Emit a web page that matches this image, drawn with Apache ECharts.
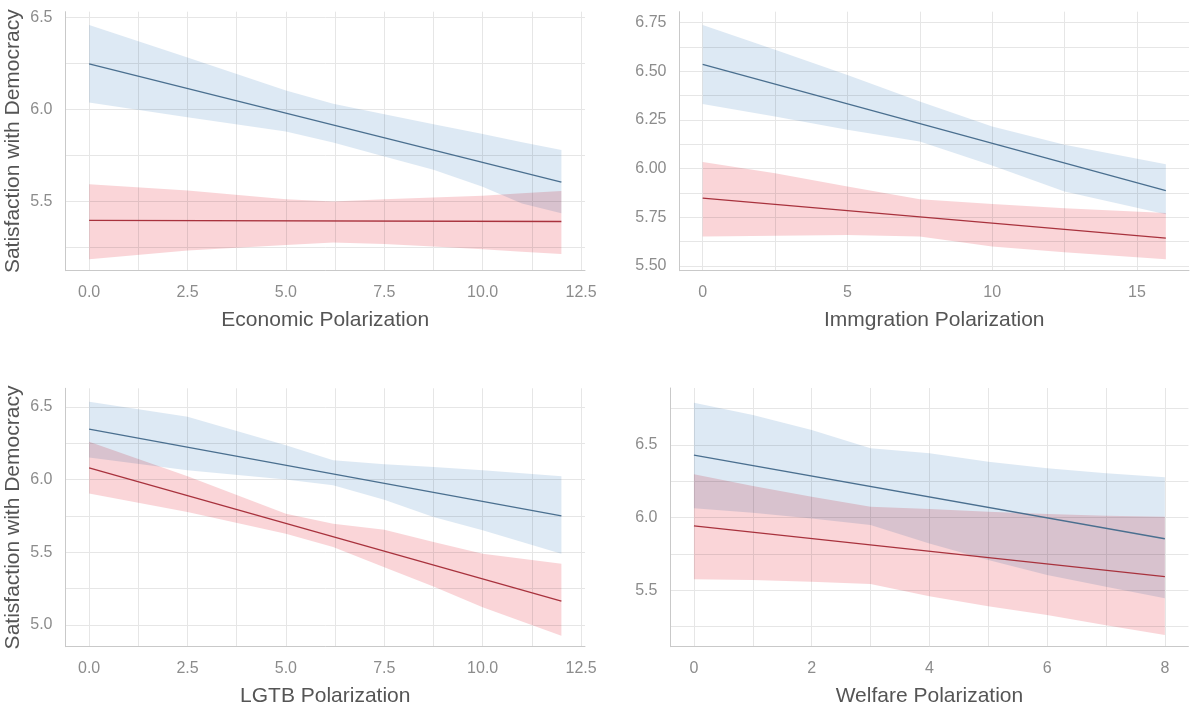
<!DOCTYPE html>
<html>
<head>
<meta charset="utf-8">
<script src="https://cdn.jsdelivr.net/npm/echarts@6/dist/echarts.min.js"></script>
<style>
  html, body { margin: 0; padding: 0; background: #fff; }
  #chart { width: 1192px; height: 709px; }
</style>
</head>
<body>
<div id="chart"></div>
<script>
// Predicted satisfaction with democracy (line) and 95% band, two groups per panel.

// Economic polarization
const econX        = [0, 2.5, 5, 6.2, 7.5, 8.75, 10, 11, 12];
const econBlueHi   = [6.458, 6.281, 6.102, 6.030, 5.974, 5.920, 5.867, 5.822, 5.780];
const econBlueLo   = [6.037, 5.958, 5.880, 5.820, 5.744, 5.672, 5.581, 5.490, 5.437];
const econRedHi    = [5.594, 5.560, 5.513, 5.500, 5.513, 5.522, 5.531, 5.545, 5.558];
const econRedLo    = [5.187, 5.234, 5.265, 5.278, 5.270, 5.256, 5.241, 5.228, 5.216];
const econLineX    = [0, 12];
const econBlueFit  = [6.247, 5.605];
const econRedFit   = [5.398, 5.392];

// Immigration polarization
const immX         = [0, 2.5, 5, 7.5, 10, 12.5, 16];
const immBlueHi    = [6.738, 6.610, 6.481, 6.344, 6.216, 6.122, 6.022];
const immBlueLo    = [6.332, 6.267, 6.199, 6.139, 6.015, 5.882, 5.765];
const immRedHi     = [6.033, 5.976, 5.908, 5.842, 5.818, 5.796, 5.771];
const immRedLo     = [5.651, 5.654, 5.659, 5.651, 5.599, 5.570, 5.534];
const immLineX     = [0, 16];
const immBlueFit   = [6.535, 5.887];
const immRedFit    = [5.848, 5.642];

// LGTB polarization
const lgtbX        = [0, 2.5, 5, 6.2, 7.5, 8.75, 10, 12];
const lgtbBlueHi   = [6.534, 6.431, 6.236, 6.132, 6.105, 6.085, 6.064, 6.022];
const lgtbBlueLo   = [6.151, 6.064, 6.000, 5.960, 5.861, 5.742, 5.650, 5.490];
const lgtbRedHi    = [6.259, 6.022, 5.765, 5.696, 5.655, 5.570, 5.489, 5.420];
const lgtbRedLo    = [5.903, 5.776, 5.627, 5.535, 5.397, 5.264, 5.122, 4.926];
const lgtbLineX    = [0, 12];
const lgtbBlueFit  = [6.346, 5.749];
const lgtbRedFit   = [6.080, 5.163];

// Welfare polarization
const welfX        = [0, 1, 2, 3, 4, 5, 6, 7, 8];
const welfBlueHi   = [6.790, 6.706, 6.603, 6.477, 6.443, 6.385, 6.340, 6.305, 6.278];
const welfBlueLo   = [6.064, 6.034, 5.995, 5.950, 5.823, 5.709, 5.606, 5.525, 5.445];
const welfRedHi    = [6.298, 6.218, 6.144, 6.076, 6.060, 6.041, 6.025, 6.014, 6.007];
const welfRedLo    = [5.576, 5.571, 5.560, 5.544, 5.460, 5.390, 5.330, 5.260, 5.193];
const welfLineX    = [0, 8];
const welfBlueFit  = [6.430, 5.855];
const welfRedFit   = [5.943, 5.594];

const xTitles = ['Economic Polarization', 'Immgration Polarization', 'LGTB Polarization', 'Welfare Polarization'];
const yTitle = 'Satisfaction with Democracy';

const FONT = 'Liberation Sans, Arial, sans-serif';
const GRID_LINE = '#e6e6e6';
const AXIS_LINE = '#c9c9c9';
const BLUE_LINE = '#4a6f8f';
const RED_LINE = '#a8323d';
const BLUE_FILL = '#dde9f4';
const RED_FILL = '#fad5d8';

// Fine tick step so gridlines land on the minor breaks while min stays a step multiple.
function gridColors(min, step, every) {
  const n = Math.round(every / step);
  const off = (((-Math.round(min / step)) % n) + n) % n;
  const arr = new Array(n).fill('rgba(0,0,0,0)');
  arr[off] = GRID_LINE;
  return arr;
}
function labelFmt(every, dec) {
  return function (v) {
    const k = v / every;
    return Math.abs(k - Math.round(k)) < 1e-6 ? v.toFixed(dec) : '';
  };
}

function valueAxis(idx, cfg, dim, name) {
  const ax = {
    type: 'value', gridIndex: idx,
    min: cfg.min, max: cfg.max, interval: cfg.step,
    axisLine: { show: true, onZero: false, lineStyle: { color: AXIS_LINE, width: 1 } },
    axisTick: { show: false },
    splitLine: { show: true, lineStyle: { color: gridColors(cfg.min, cfg.step, cfg.grid), width: 1 } },
    axisLabel: {
      formatter: labelFmt(cfg.label, cfg.dec),
      color: '#8c8c8c', fontFamily: FONT, fontSize: 16,
      margin: dim === 'x' ? 14 : 13,
      showMinLabel: true, showMaxLabel: true
    }
  };
  if (name) {
    ax.name = name;
    ax.nameLocation = 'middle';
    ax.nameGap = dim === 'x' ? 39 : 42;
    ax.nameTextStyle = { color: '#555555', fontFamily: FONT, fontSize: 21 };
  }
  return ax;
}

const panels = [
  { grid: { left: 65.5, top: 11.7, width: 519.5, height: 259 },
    x: { min: -0.6, max: 12.6, step: 0.05, grid: 1.25, label: 2.5, dec: 1 },
    y: { min: 5.125, max: 6.53, step: 0.125, grid: 0.25, label: 0.5, dec: 1 },
    bx: econX, bhi: econBlueHi, blo: econBlueLo, rhi: econRedHi, rlo: econRedLo,
    lx: econLineX, bfit: econBlueFit, rfit: econRedFit, yName: yTitle },
  { grid: { left: 679.5, top: 11.7, width: 511.5, height: 259 },
    x: { min: -0.8, max: 16.8, step: 0.1, grid: 2.5, label: 5, dec: 0 },
    y: { min: 5.475, max: 6.806, step: 0.025, grid: 0.125, label: 0.25, dec: 2 },
    bx: immX, bhi: immBlueHi, blo: immBlueLo, rhi: immRedHi, rlo: immRedLo,
    lx: immLineX, bfit: immBlueFit, rfit: immRedFit, yName: null },
  { grid: { left: 65.5, top: 388.3, width: 519.5, height: 258.4 },
    x: { min: -0.6, max: 12.6, step: 0.05, grid: 1.25, label: 2.5, dec: 1 },
    y: { min: 4.85, max: 6.627, step: 0.05, grid: 0.25, label: 0.5, dec: 1 },
    bx: lgtbX, bhi: lgtbBlueHi, blo: lgtbBlueLo, rhi: lgtbRedHi, rlo: lgtbRedLo,
    lx: lgtbLineX, bfit: lgtbBlueFit, rfit: lgtbRedFit, yName: yTitle },
  { grid: { left: 670.4, top: 388, width: 518, height: 258.7 },
    x: { min: -0.4, max: 8.4, step: 0.2, grid: 1, label: 2, dec: 0 },
    y: { min: 5.1125, max: 6.892, step: 0.0125, grid: 0.25, label: 0.5, dec: 1 },
    bx: welfX, bhi: welfBlueHi, blo: welfBlueLo, rhi: welfRedHi, rlo: welfRedLo,
    lx: welfLineX, bfit: welfBlueFit, rfit: welfRedFit, yName: null }
];

function bandSeries(idx, xs, lo, hi, fill) {
  return {
    type: 'custom', xAxisIndex: idx, yAxisIndex: idx,
    data: xs.map((x, i) => [x, lo[i], hi[i]]),
    encode: { x: 0, y: [1, 2] },
    silent: true, z: 1, blendMode: 'multiply',
    renderItem: function (params, api) {
      if (params.dataIndex !== 0) return null;
      const pts = [];
      for (let i = 0; i < xs.length; i++) pts.push(api.coord([xs[i], hi[i]]));
      for (let i = xs.length - 1; i >= 0; i--) pts.push(api.coord([xs[i], lo[i]]));
      return { type: 'polygon', shape: { points: pts }, style: { fill: fill, stroke: null, blend: 'multiply' } };
    }
  };
}
function fitSeries(idx, xs, ys, color) {
  return {
    type: 'line', xAxisIndex: idx, yAxisIndex: idx,
    data: xs.map((x, i) => [x, ys[i]]),
    symbol: 'none', silent: true, z: 3,
    lineStyle: { color: color, width: 1.3 }
  };
}

const grids = [], xAxes = [], yAxes = [], series = [];
panels.forEach((p, i) => {
  grids.push(Object.assign({ containLabel: false }, p.grid));
  xAxes.push(valueAxis(i, p.x, 'x', xTitles[i]));
  yAxes.push(valueAxis(i, p.y, 'y', p.yName));
  series.push(bandSeries(i, p.bx, p.blo, p.bhi, BLUE_FILL));
  series.push(bandSeries(i, p.bx, p.rlo, p.rhi, RED_FILL));
  series.push(fitSeries(i, p.lx, p.bfit, BLUE_LINE));
  series.push(fitSeries(i, p.lx, p.rfit, RED_LINE));
});

const chart = echarts.init(document.getElementById('chart'), null, { renderer: 'canvas' });
chart.setOption({
  backgroundColor: '#ffffff',
  animation: false,
  grid: grids,
  xAxis: xAxes,
  yAxis: yAxes,
  series: series
});
</script>
</body>
</html>
